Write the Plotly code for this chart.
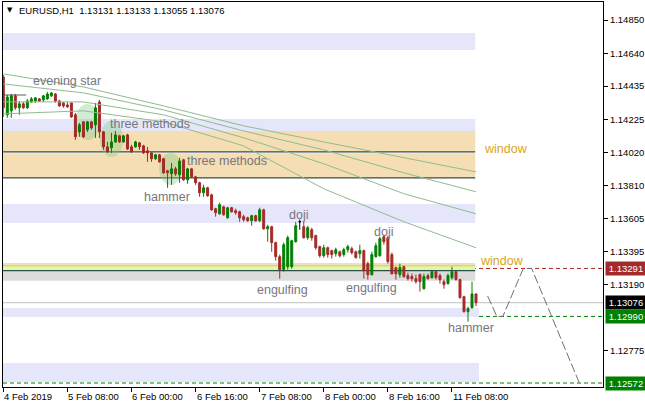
import plotly.graph_objects as go

# ---------------- data ----------------
tick_bars = [0, 16, 32, 48, 64, 80, 96, 112]
tick_labels = ["4 Feb 2019", "5 Feb 08:00", "6 Feb 00:00", "6 Feb 16:00",
               "7 Feb 08:00", "8 Feb 00:00", "8 Feb 16:00", "11 Feb 08:00"]
price_ticks = [1.14850, 1.14640, 1.14435, 1.14225, 1.14020, 1.13810,
               1.13605, 1.13395, 1.13190, 1.12775]

opens = [1.14493, 1.14255, 1.14280, 1.14374, 1.14299, 1.14324, 1.14299, 1.14336, 1.14342, 1.14355,
         1.14349, 1.14355, 1.14374, 1.14386, 1.14342, 1.14330, 1.14317, 1.14330, 1.14255, 1.14148,
         1.14211, 1.14161, 1.14211, 1.14192, 1.14336, 1.14148, 1.14054, 1.14048, 1.14085, 1.14123,
         1.14085, 1.14129, 1.14054, 1.14054, 1.14079, 1.14060, 1.14029, 1.14016, 1.13979, 1.14004,
         1.13979, 1.13904, 1.13885, 1.13916, 1.13879, 1.13973, 1.13847, 1.13916, 1.13866, 1.13829,
         1.13766, 1.13797, 1.13753, 1.13666, 1.13634, 1.13678, 1.13609, 1.13672, 1.13653, 1.13647,
         1.13616, 1.13609, 1.13590, 1.13622, 1.13590, 1.13659, 1.13540, 1.13553, 1.13453, 1.13365,
         1.13283, 1.13302, 1.13302, 1.13459, 1.13584, 1.13553, 1.13484, 1.13534, 1.13497, 1.13428,
         1.13371, 1.13421, 1.13403, 1.13384, 1.13396, 1.13378, 1.13409, 1.13415, 1.13396, 1.13384,
         1.13403, 1.13321, 1.13252, 1.13365, 1.13371, 1.13490, 1.13484, 1.13378, 1.13296, 1.13252,
         1.13302, 1.13246, 1.13240, 1.13227, 1.13252, 1.13164, 1.13246, 1.13233, 1.13271, 1.13246,
         1.13208, 1.13196, 1.13233, 1.13271, 1.13221, 1.13114, 1.13020, 1.13045, 1.13131]
highs = [1.14505, 1.14380, 1.14386, 1.14386, 1.14342, 1.14336, 1.14355, 1.14367, 1.14367, 1.14361,
         1.14380, 1.14399, 1.14399, 1.14392, 1.14349, 1.14336, 1.14336, 1.14330, 1.14267, 1.14204,
         1.14217, 1.14217, 1.14217, 1.14330, 1.14349, 1.14154, 1.14085, 1.14142, 1.14154, 1.14129,
         1.14129, 1.14136, 1.14067, 1.14092, 1.14085, 1.14067, 1.14054, 1.14023, 1.14010, 1.14010,
         1.13985, 1.13910, 1.13954, 1.13929, 1.13985, 1.13979, 1.13922, 1.13922, 1.13872, 1.13835,
         1.13816, 1.13804, 1.13760, 1.13672, 1.13703, 1.13685, 1.13678, 1.13678, 1.13666, 1.13653,
         1.13628, 1.13616, 1.13628, 1.13628, 1.13672, 1.13666, 1.13565, 1.13559, 1.13459, 1.13378,
         1.13453, 1.13497, 1.13471, 1.13584, 1.13597, 1.13584, 1.13559, 1.13547, 1.13503, 1.13434,
         1.13440, 1.13428, 1.13409, 1.13421, 1.13403, 1.13421, 1.13440, 1.13428, 1.13403, 1.13440,
         1.13409, 1.13334, 1.13396, 1.13453, 1.13490, 1.13503, 1.13497, 1.13390, 1.13302, 1.13321,
         1.13309, 1.13265, 1.13259, 1.13252, 1.13259, 1.13259, 1.13259, 1.13277, 1.13277, 1.13259,
         1.13221, 1.13259, 1.13302, 1.13277, 1.13227, 1.13120, 1.13051, 1.13208, 1.13133]
lows = [1.14242, 1.14236, 1.14236, 1.14286, 1.14255, 1.14292, 1.14292, 1.14330, 1.14330, 1.14336,
        1.14336, 1.14349, 1.14367, 1.14330, 1.14305, 1.14299, 1.14299, 1.14236, 1.14098, 1.14117,
        1.14110, 1.14148, 1.14161, 1.14110, 1.14110, 1.14035, 1.14016, 1.14016, 1.14079, 1.14079,
        1.14079, 1.14035, 1.14016, 1.14048, 1.14035, 1.14010, 1.13960, 1.13960, 1.13973, 1.13954,
        1.13885, 1.13797, 1.13816, 1.13872, 1.13829, 1.13841, 1.13822, 1.13860, 1.13816, 1.13741,
        1.13741, 1.13741, 1.13653, 1.13616, 1.13628, 1.13622, 1.13603, 1.13641, 1.13628, 1.13584,
        1.13584, 1.13584, 1.13559, 1.13584, 1.13584, 1.13534, 1.13459, 1.13396, 1.13340, 1.13227,
        1.13271, 1.13283, 1.13290, 1.13453, 1.13534, 1.13478, 1.13471, 1.13465, 1.13409, 1.13359,
        1.13359, 1.13359, 1.13353, 1.13365, 1.13359, 1.13365, 1.13390, 1.13378, 1.13353, 1.13353,
        1.13227, 1.13221, 1.13246, 1.13359, 1.13365, 1.13440, 1.13321, 1.13252, 1.13221, 1.13233,
        1.13233, 1.13215, 1.13208, 1.13196, 1.13146, 1.13158, 1.13221, 1.13227, 1.13221, 1.13196,
        1.13164, 1.13189, 1.13221, 1.13215, 1.13101, 1.13014, 1.12958, 1.13039, 1.13055]
closes = [1.14299, 1.14367, 1.14374, 1.14299, 1.14324, 1.14299, 1.14342, 1.14355, 1.14361, 1.14342,
          1.14374, 1.14386, 1.14392, 1.14342, 1.14311, 1.14311, 1.14305, 1.14242, 1.14117, 1.14192,
          1.14117, 1.14211, 1.14173, 1.14299, 1.14148, 1.14054, 1.14023, 1.14085, 1.14129, 1.14085,
          1.14123, 1.14041, 1.14023, 1.14085, 1.14054, 1.14016, 1.14016, 1.13979, 1.14004, 1.13960,
          1.13891, 1.13891, 1.13916, 1.13885, 1.13966, 1.13847, 1.13916, 1.13866, 1.13829, 1.13766,
          1.13797, 1.13747, 1.13659, 1.13641, 1.13691, 1.13628, 1.13672, 1.13647, 1.13641, 1.13609,
          1.13597, 1.13590, 1.13622, 1.13590, 1.13659, 1.13540, 1.13553, 1.13453, 1.13365, 1.13283,
          1.13440, 1.13484, 1.13465, 1.13559, 1.13584, 1.13484, 1.13547, 1.13484, 1.13421, 1.13371,
          1.13421, 1.13378, 1.13378, 1.13409, 1.13371, 1.13409, 1.13428, 1.13390, 1.13359, 1.13403,
          1.13277, 1.13252, 1.13378, 1.13434, 1.13478, 1.13459, 1.13334, 1.13258, 1.13258, 1.13296,
          1.13240, 1.13227, 1.13227, 1.13208, 1.13208, 1.13240, 1.13227, 1.13271, 1.13233, 1.13221,
          1.13189, 1.13246, 1.13271, 1.13221, 1.13108, 1.13020, 1.13039, 1.13131, 1.13076]
bars = list(range(len(closes)))
doji_bars = [74]

# moving-average lines (values read at a few bars)
ma_bars = [0, 20, 40, 60, 80, 100, 118]
ma_1 = [1.14512, 1.14430, 1.14311, 1.14186, 1.14085, 1.13985, 1.13897]
ma_2 = [1.14449, 1.14393, 1.14286, 1.14154, 1.14035, 1.13891, 1.13772]
ma_3 = [1.14336, 1.14336, 1.14255, 1.14111, 1.13948, 1.13760, 1.13634]
ma_4 = [1.14261, 1.14280, 1.14211, 1.14060, 1.13791, 1.13584, 1.13421]

# zones: (bottom, top, last bar, colour)
zone_bottom = [1.146618, 1.141535, 1.140217, 1.138586, 1.135762, 1.133082, 1.132768, 1.132141, 1.129863, 1.125785]
zone_top    = [1.147684, 1.142288, 1.141535, 1.140136, 1.136954, 1.133252, 1.133082, 1.132768, 1.130428, 1.126977]
zone_end    = [117.8, 117.8, 117.8, 117.8, 117.8, 117.8, 117.8, 117.8, 118.75, 118.75]
zone_color  = ["#E6E6FA", "#E6E6FA", "#F5DEB3", "#F5DEB3", "#E6E6FA", "#F5DEB3",
               "rgb(224,248,165)", "#DCDCDC", "#E6E6FA", "#E6E6FA"]

window_lines = [1.14022, 1.13859, 1.13277]
level_prices = [1.13291, 1.13076, 1.12990, 1.12572]
level_colors = ["#A52A2A", "#000000", "#008000", "#008000"]
level_lines = ["#B22222", "#C0C0C0", "#008000", "#008000"]
level_dash = ["dash", "solid", "dash", "dash"]

# highlighted pattern clouds: bar from, bar to, price low, price high
cloud_x0 = [17.9, 24.1, 38.9]
cloud_x1 = [24.1, 29.9, 44.6]
cloud_y0 = [1.140970, 1.139903, 1.138146]
cloud_y1 = [1.143229, 1.142162, 1.140154]

pattern_text = ["evening star", "three methods", "three methods", "hammer", "doji", "doji",
                "engulfing", "engulfing", "hammer"]
pattern_bar = [15.9, 36.6, 55.8, 40.9, 73.8, 94.8, 69.8, 92.0, 116.8]
pattern_price = [1.144672, 1.141974, 1.139652, 1.137393, 1.136264, 1.135197, 1.131557, 1.131683, 1.129173]
window_bar = [119.5, 118.5]
window_price = [1.140405, 1.133377]

proj_bars = [120.9, 123.2, 124.7, 129.8, 131.9, 143.8]
proj_price = [1.13118, 1.12990, 1.12990, 1.13291, 1.13291, 1.12572]

title_text = "EURUSD,H1  1.13131 1.13133 1.13055 1.13076"

# ---------------- figure ----------------
FONT = "Liberation Sans, Arial, sans-serif"
fig = go.Figure()

shapes = []
for b0, b1, e, c in zip(zone_bottom, zone_top, zone_end, zone_color):
    shapes.append(dict(type="rect", xref="x", yref="y", x0=-1, x1=e, y0=b0, y1=b1,
                       fillcolor=c, line=dict(width=0), layer="below"))
shapes.append(dict(type="line", xref="x", yref="y", x0=-1, x1=117.8, y0=1.13308, y1=1.13308,
                   line=dict(color="rgb(196,206,120)", width=1), layer="below"))
for p in window_lines:
    shapes.append(dict(type="line", xref="x", yref="y", x0=-1, x1=117.8, y0=p, y1=p,
                       line=dict(color="#2F4F4F", width=1.3), layer="below"))
for x0, x1, y0, y1 in zip(cloud_x0, cloud_x1, cloud_y0, cloud_y1):
    shapes.append(dict(type="circle", xref="x", yref="y", x0=x0, x1=x1, y0=y0, y1=y1,
                       fillcolor="rgba(120,200,130,0.35)", line=dict(width=0), layer="below"))
for p, lc, d in zip(level_prices, level_lines, level_dash):
    shapes.append(dict(type="line", xref="paper", yref="y", x0=0, x1=1, y0=p, y1=p,
                       line=dict(color=lc, width=1, dash="4px,3px" if d == "dash" else "solid"),
                       layer="below"))
shapes.append(dict(type="line", xref="x", yref="y", x0=-1, x1=5.7, y0=1.143794, y1=1.143794,
                   line=dict(color="#5A5A5A", width=1), layer="below"))

for m in (ma_1, ma_2, ma_3, ma_4):
    fig.add_trace(go.Scatter(x=ma_bars, y=m, mode="lines",
                             line=dict(color="#8FBC8F", width=1), hoverinfo="skip"))

keep = [i for i in bars if i not in doji_bars]
fig.add_trace(go.Candlestick(
    x=keep, open=[opens[i] for i in keep], high=[highs[i] for i in keep],
    low=[lows[i] for i in keep], close=[closes[i] for i in keep],
    increasing=dict(line=dict(color="#008000", width=1), fillcolor="#008000"),
    decreasing=dict(line=dict(color="#A52A2A", width=1), fillcolor="#A52A2A"),
    whiskerwidth=0, hoverinfo="skip"))
fig.add_trace(go.Candlestick(
    x=doji_bars, open=[opens[i] for i in doji_bars], high=[highs[i] for i in doji_bars],
    low=[lows[i] for i in doji_bars], close=[closes[i] for i in doji_bars],
    increasing=dict(line=dict(color="#000000", width=1), fillcolor="#000000"),
    decreasing=dict(line=dict(color="#000000", width=1), fillcolor="#000000"),
    whiskerwidth=0, hoverinfo="skip"))

fig.add_trace(go.Scatter(x=proj_bars, y=proj_price, mode="lines",
                         line=dict(color="#6E6E6E", width=1, dash="9px,3px"), hoverinfo="skip"))

ann = []
for t, b, p in zip(pattern_text, pattern_bar, pattern_price):
    ann.append(dict(x=b, y=p, xref="x", yref="y", text=t, showarrow=False,
                    font=dict(family=FONT, size=12.5, color="#76767F")))
for b, p in zip(window_bar, window_price):
    ann.append(dict(x=b, y=p, xref="x", yref="y", text="window", showarrow=False, xanchor="left",
                    font=dict(family=FONT, size=12.5, color="#DAA520")))
for b, lab in zip(tick_bars, tick_labels):
    ann.append(dict(x=b, y=0, xref="x", yref="paper", text=lab, showarrow=False,
                    xanchor="left", yanchor="top", yshift=-2, xshift=-1,
                    font=dict(family=FONT, size=9.5, color="black")))
for p, c in zip(level_prices, level_colors):
    ann.append(dict(x=1, y=p, xref="paper", yref="y", text=f"{p:.5f}", showarrow=False,
                    xanchor="left", xshift=2, bgcolor=c, width=38, height=11, borderpad=1,
                    font=dict(family=FONT, size=9.5, color="white")))
ann.append(dict(x=0, y=1, xref="paper", yref="paper", text=title_text, showarrow=False,
                xanchor="left", yanchor="top", xshift=14, yshift=-1,
                font=dict(family=FONT, size=9.5, color="black")))
ann.append(dict(x=0, y=1, xref="paper", yref="paper", text="▼", showarrow=False,
                xanchor="left", yanchor="top", xshift=2, yshift=-2,
                font=dict(family="DejaVu Sans", size=7, color="black")))

fig.update_layout(
    width=645, height=407, margin=dict(l=3, r=42, t=2, b=20, autoexpand=False),
    paper_bgcolor="white", plot_bgcolor="white", showlegend=False,
    shapes=shapes, annotations=ann, hovermode=False,
    xaxis=dict(range=[-0.075, 149.7], showgrid=False, zeroline=False,
               tickmode="array", tickvals=tick_bars, showticklabels=False,
               ticks="outside", ticklen=4, tickcolor="black",
               showline=True, linecolor="black", linewidth=1, mirror=True,
               rangeslider=dict(visible=False)),
    yaxis=dict(range=[1.125471, 1.149630], side="right", showgrid=False, zeroline=False,
               tickmode="array", tickvals=price_ticks,
               ticktext=[f"{v:.5f}" for v in price_ticks],
               ticks="outside", ticklen=4, tickcolor="black",
               tickfont=dict(family=FONT, size=9.5, color="black"),
               showline=True, linecolor="black", linewidth=1, mirror=True),
)

fig.write_html("out.html", config={"displayModeBar": False},
               post_script="document.body.style.margin='0px';document.body.style.padding='0px';")
